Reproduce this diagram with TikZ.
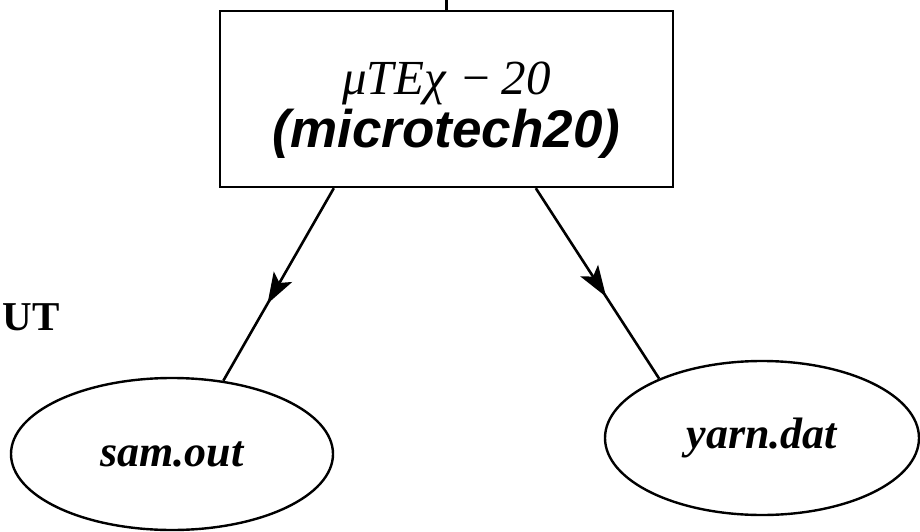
\documentclass[tikz,border=0pt]{standalone}
\usepackage{fontspec}
\setmainfont{Liberation Serif}
\setsansfont{Liberation Sans}
\usepackage{tikz}
\usetikzlibrary{arrows.meta,positioning,shapes.geometric,calc,decorations.markings}

\begin{document}
\begin{tikzpicture}[
  x=1pt, y=-1pt,
  progbox/.style={
    rectangle, draw=black, line width=2.4pt, fill=white,
    minimum width=453pt, minimum height=176pt, inner sep=0pt,
    align=center, font=\fontsize{48}{53}\selectfont
  },
  datafile/.style={
    ellipse, draw=black, line width=2.4pt, fill=white, inner sep=0pt,
    font=\fontsize{44}{50}\selectfont\bfseries\itshape
  },
  arr/.style={line width=2.6pt, postaction={decorate},
    decoration={markings,
      mark=at position #1 with {\arrow{Stealth[length=31pt,width=21pt,inset=7pt]}}}
  },
]
  \useasboundingbox (0,0) rectangle (920,532);

  % Program box
  \coordinate (feed) at (446.5,0);
  \node[progbox] (prog) at (446.5,99)
    {\rule{0pt}{54pt}{\fontsize{49}{53}\selectfont\itshape μTEχ\hspace{14pt}−\hspace{9pt}20}\\
     {\fontsize{53}{53}\selectfont\sffamily\bfseries\itshape (microtech20)}};

  % Files
  \node[datafile, minimum width=322pt, minimum height=152pt] (sam) at (172,454) {sam.out};
  \node[datafile, minimum width=314pt, minimum height=154pt] (yarn) at (762,438) {yarn.dat};

  % Side label
  \node[anchor=base east, inner sep=0pt, font=\fontsize{41}{45}\selectfont\bfseries] (outlbl) at (60,330) {UT};

  % Arrows
  \draw[line width=2.4pt] (feed) -- (prog.north);
  \draw[arr=0.6] ($(prog.south west)+(115,0)$) -- (sam.55);
  \draw[arr=0.57] ($(prog.south west)+(317,0)$) -- (yarn.150);
\end{tikzpicture}
\end{document}
